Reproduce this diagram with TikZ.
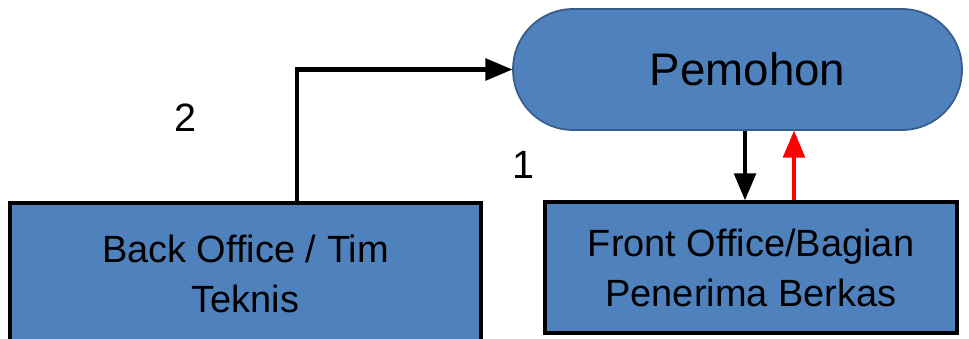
\documentclass[tikz,border=0pt]{standalone}
\usepackage{fontspec}
\setmainfont{Liberation Sans}
\usetikzlibrary{arrows}
\definecolor{boxblue}{HTML}{4F81BD}
\definecolor{edgeblue}{HTML}{385D8A}
\tikzset{
  unitbox/.style = {rectangle, draw=black, fill=boxblue, line width=2.2pt,
    align=center, inner sep=0pt,
    font=\fontsize{21.6}{28.5}\selectfont},% kotak unit kerja
  actor/.style = {rectangle, rounded corners=1.2cm, draw=edgeblue,
    fill=boxblue, line width=1pt, minimum width=8.98cm, minimum height=2.42cm,
    font=\fontsize{26}{30}\selectfont},% pemohon
  steplabel/.style = {font=\fontsize{22.5}{26}\selectfont, inner sep=0pt},% nomor alur
  flow/.style = {->, line width=2.6pt}% garis alur
}
\begin{document}
\begin{tikzpicture}[x=0.02cm, y=-0.02cm, >=triangle 45]
  \useasboundingbox (0,0) rectangle (969,338);
  \node [actor] (pemohon) at (737.5,69.5) {\hspace*{0.4cm}Pemohon};
  \node [unitbox, minimum width=9.42cm, minimum height=2.94cm] (back)
    at (245.5,276.5) {\raisebox{0.12cm}{Back Office / Tim}\\\raisebox{0.12cm}{Teknis}};
  \node [unitbox, minimum width=8.24cm, minimum height=2.62cm] (front)
    at (751,267.5) {Front Office/Bagian\\Penerima Berkas};
  \node [steplabel] (two) at (185,118) {2};
  \node [steplabel] (one) at (523,165) {1};
  \draw [flow] (back.north -| 297,0) |- (pemohon.west);
  \draw [flow] (pemohon.south -| 745,0) -- (front.north -| 745,0);
  \draw [flow, red] (front.north -| 794,0) -- (pemohon.south -| 794,0);
\end{tikzpicture}
\end{document}
